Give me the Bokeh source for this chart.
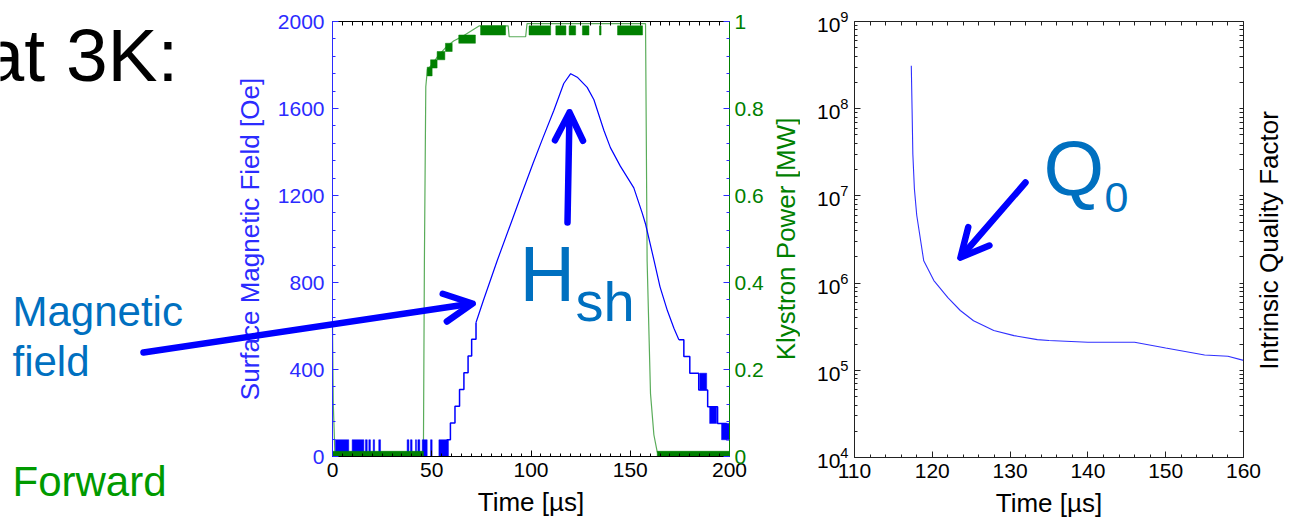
import math
from bokeh.plotting import figure
from bokeh.models import (Range1d, LinearAxis, LogAxis, FixedTicker, SingleIntervalTicker,
                          Label, Arrow, OpenHead)
from bokeh.layouts import row
from bokeh.embed import file_html
from bokeh.resources import INLINE

FONT = "Liberation Sans"
AXBLUE = "#2b2bff"
LINEBLUE = "#0000ff"
GREEN = "#008000"
TXT_BLUE = "#0070c0"
TXT_GREEN = "#009a00"

# ---------------- data: left chart ----------------
# Surface magnetic field [Oe] (rising staircase, smooth part, falling staircase)
rise_t = [57.5, 59.4, 61.7, 64.0, 66.2, 68.3, 70.1, 72.3]
rise_h = [77, 154, 231, 308, 385, 462, 539, 616]
main_t = [72.3, 76, 83, 90, 95, 101, 106, 111.5, 116.5, 120, 123.3, 128.3, 131.7,
          136.7, 140, 145, 151.8, 156, 157.7, 162, 165, 168.7, 172, 174.5]
main_h = [616, 717, 901, 1075, 1200, 1347, 1465, 1591, 1715, 1760, 1744, 1697, 1640,
          1500, 1420, 1335, 1235, 1120, 1069, 901, 780, 671, 590, 537]
fall_t = [174.5, 177, 180, 184.5, 189, 194, 198.5, 200]
fall_h = [537, 460, 383, 306, 229, 152, 77, 77]
# digitizer toggling bursts of the field signal (start, end, low, high)
hnoise_t0 = [1.5, 9.9, 16.6, 18.3, 20.5, 23.3, 37.6, 39.3, 41.8, 43.0, 45.2, 49.4, 53.6,
             185.0, 190.0, 196.0]
hnoise_t1 = [8.2, 15.8, 17.5, 19.1, 21.2, 24.2, 38.5, 40.1, 42.3, 44.0, 47.7, 50.2, 58.4,
             188.5, 193.5, 200.0]
hnoise_lo = [0, 0, 0, 0, 0, 0, 0, 0, 0, 0, 0, 0, 0, 306, 152, 77]
hnoise_hi = [77, 77, 77, 77, 77, 77, 77, 77, 77, 77, 77, 77, 77, 383, 229, 152]

# Klystron power [MW]
pw_t = [0, 0.4, 1.2, 45.8, 46.3, 47.0, 47.8, 50, 53, 57, 61, 66, 74, 88.5, 89, 97.3, 98,
        157.7, 158.5, 160.2, 161.9, 163.6, 200]
pw_v = [0.30, 0.12, 0.01, 0.01, 0.45, 0.85, 0.89, 0.90, 0.92, 0.94, 0.955, 0.967, 0.99,
        0.99, 0.965, 0.965, 0.995, 0.995, 0.45, 0.145, 0.05, 0.01, 0.01]
pnoise_t0 = [0, 163.6, 47.7, 49.4, 52.7, 56.9, 63.6, 74.6, 99.0, 112.5, 119.2, 125.9, 134.5, 143.6]
pnoise_t1 = [45.8, 200, 50.2, 52.7, 56.6, 60.3, 72.0, 87.2, 109.9, 117.6, 122.5, 129.2, 135.3, 156.2]
pnoise_lo = [0, 0, 0.875, 0.893, 0.912, 0.931, 0.950, 0.969, 0.969, 0.969, 0.969, 0.969, 0.969, 0.969]
pnoise_hi = [0.012, 0.012, 0.895, 0.912, 0.931, 0.950, 0.969, 0.990, 0.990, 0.990, 0.990, 0.990, 0.990, 0.990]

# ---------------- data: right chart ----------------
q_t = [117.3, 117.4, 117.5, 117.7, 118.0, 118.9, 120.2, 122.0, 123.6, 125.3, 127.9, 130.5,
       133.5, 135.0, 140.0, 146.0, 150.0, 155.0, 158.0, 160.0]
q_v = [3.1e8, 1.0e8, 3.0e7, 1.2e7, 6.0e6, 1.8e6, 1.07e6, 6.8e5, 4.85e5, 3.7e5, 2.86e5, 2.5e5,
       2.25e5, 2.2e5, 2.1e5, 2.1e5, 1.8e5, 1.5e5, 1.45e5, 1.3e5]

TICK_FS = "21px"
LABEL_FS = "26px"
BASE_SHIFT = 0.37  # label anchor offset (fraction of font size) above the glyph baseline


def style_axis(ax, color, label_color=None, tick_color=None):
    ax.axis_line_color = color
    ax.major_tick_line_color = tick_color or color
    ax.minor_tick_line_color = tick_color or color
    ax.major_tick_in = 6
    ax.major_tick_out = 0
    ax.minor_tick_in = 3
    ax.minor_tick_out = 0
    ax.major_label_text_font = FONT
    ax.major_label_text_color = label_color or color
    ax.major_label_text_font_size = TICK_FS
    ax.axis_label_text_font = FONT
    ax.axis_label_text_font_size = LABEL_FS
    ax.axis_label_text_font_style = "normal"
    ax.axis_label_text_color = label_color or color


def tick_only_axis(cls, ticks, color, **kw):
    ax = cls(ticker=FixedTicker(ticks=[], minor_ticks=ticks), **kw)
    ax.axis_line_color = color
    ax.minor_tick_line_color = color
    ax.minor_tick_in = 4
    ax.minor_tick_out = 0
    ax.major_tick_in = 0
    ax.major_tick_out = 0
    return ax


def bare_figure(width, height, x_range, y_range, **kw):
    f = figure(width=width, height=height, x_range=x_range, y_range=y_range,
               output_backend="svg", toolbar_location=None, min_border=0,
               min_border_left=0, min_border_right=0, min_border_top=0, min_border_bottom=0, **kw)
    f.grid.visible = False
    f.outline_line_color = None
    f.background_fill_color = "white"
    f.border_fill_color = "white"
    return f


# ---------------- left figure (frame = whole canvas, axes at fixed locations) ----------------
# canvas pixel mapping: t=0 -> x 332, t=200 -> x 729 ; H=0 -> y 456, H=2000 -> y 21
W1, H1 = 800, 519
SX = (729 - 332) / 200.0
SY = (456 - 21) / 2000.0
p = bare_figure(W1, H1, Range1d(-332 / SX, (W1 - 332) / SX),
                Range1d(-(H1 - 456) / SY, 456 / SY))
p.extra_y_ranges = {"pw": Range1d(-(H1 - 456) / 435.0, 456 / 435.0)}


def lx(px):
    return (px - 332) / SX


def ly_text(baseline_px, fs):
    return (456 - (baseline_px - BASE_SHIFT * fs)) / SY


bx = p.xaxis[0]
bx.ticker = SingleIntervalTicker(interval=50, num_minor_ticks=10)
style_axis(bx, "#000000")
bx.fixed_location = 0
bx.bounds = (0, 200)
bx.axis_label = "Time [µs]"
bx.major_label_standoff = 6
bx.axis_label_standoff = 7

lya = p.yaxis[0]
lya.ticker = SingleIntervalTicker(interval=400, num_minor_ticks=5)
style_axis(lya, AXBLUE)
lya.fixed_location = 0
lya.bounds = (0, 2000)
lya.axis_label = "Surface Magnetic Field [Oe]"
lya.major_label_standoff = 8
lya.axis_label_standoff = 10

tx = tick_only_axis(LinearAxis, list(range(0, 201, 5)), "#000000", fixed_location=2000, bounds=(0, 200))
p.add_layout(tx, "above")

ry = LinearAxis(y_range_name="pw", ticker=SingleIntervalTicker(interval=0.2, num_minor_ticks=5),
                fixed_location=200, bounds=(0, 1))
style_axis(ry, GREEN, label_color=GREEN, tick_color=AXBLUE)
ry.major_label_overrides = {0: "0", 1: "1"}
ry.major_label_standoff = 5
p.add_layout(ry, "right")

# power trace
p.line(pw_t, pw_v, y_range_name="pw", line_color=GREEN, line_width=1.2, line_alpha=0.65)
p.quad(left=pnoise_t0[2:], right=pnoise_t1[2:], bottom=pnoise_lo[2:], top=pnoise_hi[2:],
       y_range_name="pw", fill_color=GREEN, line_color=GREEN, line_width=0.5)
# field trace
p.quad(left=hnoise_t0, right=hnoise_t1, bottom=hnoise_lo, top=hnoise_hi,
       fill_color=LINEBLUE, line_color=LINEBLUE, line_width=0.5)
p.step(rise_t, rise_h, mode="after", line_color=LINEBLUE, line_width=1.5)
p.line(main_t, main_h, line_color=LINEBLUE, line_width=1.2)
p.step(fall_t, fall_h, mode="after", line_color=LINEBLUE, line_width=1.5)
p.quad(left=pnoise_t0[:2], right=pnoise_t1[:2], bottom=pnoise_lo[:2], top=pnoise_hi[:2],
       y_range_name="pw", fill_color=GREEN, line_color=GREEN, line_width=0.5)

# right-hand axis title of the left chart
p.add_layout(Label(x=lx(785), y=1000, text="Klystron Power [MW]", angle=math.pi / 2,
                   text_font=FONT, text_font_size=LABEL_FS, text_color=GREEN,
                   text_align="center", text_baseline="middle"))

# slide annotations
p.add_layout(Label(x=lx(-18), y=ly_text(82, 75), text="at 3K:", text_font=FONT,
                   text_font_size="75px", text_color="#000000", text_baseline="alphabetic"))
p.add_layout(Label(x=lx(12), y=ly_text(327, 42), text="Magnetic", text_font=FONT,
                   text_font_size="42px", text_color=TXT_BLUE, text_baseline="alphabetic"))
p.add_layout(Label(x=lx(12), y=ly_text(377, 42), text="field", text_font=FONT,
                   text_font_size="42px", text_color=TXT_BLUE, text_baseline="alphabetic"))
p.add_layout(Label(x=lx(12), y=ly_text(497, 42), text="Forward", text_font=FONT,
                   text_font_size="42px", text_color=TXT_GREEN, text_baseline="alphabetic"))
p.add_layout(Label(x=lx(519), y=ly_text(302, 77), text="H", text_font=FONT,
                   text_font_size="77px", text_color=TXT_BLUE, text_baseline="alphabetic"))
p.add_layout(Label(x=lx(575), y=ly_text(322, 56), text="sh", text_font=FONT,
                   text_font_size="56px", text_color=TXT_BLUE, text_baseline="alphabetic"))

head_kw = dict(size=28, line_width=6.5, line_color=LINEBLUE, line_cap="round", line_join="round")
p.add_layout(Arrow(end=OpenHead(**head_kw), x_start=lx(143), y_start=(456 - 352) / SY,
                   x_end=lx(472), y_end=(456 - 303) / SY,
                   line_width=6.5, line_color=LINEBLUE, line_cap="round"))
p.add_layout(Arrow(end=OpenHead(**head_kw), x_start=lx(567), y_start=(456 - 222) / SY,
                   x_end=lx(569), y_end=(456 - 112) / SY,
                   line_width=6.5, line_color=LINEBLUE, line_cap="round"))

# ---------------- right figure (frame = whole canvas) ----------------
# page mapping: t=110 -> x 854, t=160 -> x 1243 ; 1e9 -> y 21, 1e4 -> y 457
X0 = 800
W2 = 1293 - X0
SX2 = (1243 - 854) / 50.0
DEC = (457 - 21) / 5.0
x2_lo = 110 - (854 - X0) / SX2
x2_hi = 160 + (X0 + W2 - 1243) / SX2
y2_lo = 10 ** (4 - (H1 - 457) / DEC)
y2_hi = 10 ** (9 + 21 / DEC)
p2 = bare_figure(W2, H1, Range1d(x2_lo, x2_hi), Range1d(y2_lo, y2_hi), y_axis_type="log")


def rx(px):
    return 110 + (px - 854) / SX2


def ry_px(py):
    return 10 ** (9 - (py - 21) / DEC)


decades = [1e4, 1e5, 1e6, 1e7, 1e8, 1e9]
minor = [m * d for d in decades[:-1] for m in range(2, 10)]

bx2 = p2.xaxis[0]
bx2.ticker = SingleIntervalTicker(interval=10, num_minor_ticks=5)
style_axis(bx2, "#222222", label_color="#000000")
bx2.fixed_location = 1e4
bx2.bounds = (110, 160)
bx2.axis_label = "Time [µs]"
bx2.major_label_standoff = 6
bx2.axis_label_standoff = 7

ly2 = p2.yaxis[0]
ly2.ticker = FixedTicker(ticks=decades, minor_ticks=minor)
style_axis(ly2, "#222222", label_color="#000000")
ly2.fixed_location = 110
ly2.bounds = (1e4, 1e9)
ly2.major_label_standoff = 6

tx2 = tick_only_axis(LinearAxis, list(range(110, 161, 2)), "#222222", fixed_location=1e9, bounds=(110, 160))
p2.add_layout(tx2, "above")
ry2 = tick_only_axis(LogAxis, decades + minor, "#222222", fixed_location=160, bounds=(1e4, 1e9))
p2.add_layout(ry2, "right")

p2.line(q_t, q_v, line_color="#3030ff", line_width=1.1)

p2.add_layout(Label(x=rx(1268), y=ry_px(240), text="Intrinsic Quality Factor", angle=math.pi / 2,
                    text_font=FONT, text_font_size=LABEL_FS, text_color="#000000",
                    text_align="center", text_baseline="middle"))
p2.add_layout(Label(x=rx(1043), y=ry_px(196 - BASE_SHIFT * 78), text="Q", text_font=FONT,
                    text_font_size="78px", text_color=TXT_BLUE, text_baseline="alphabetic"))
p2.add_layout(Label(x=rx(1104), y=ry_px(213 - BASE_SHIFT * 43), text="0", text_font=FONT,
                    text_font_size="43px", text_color=TXT_BLUE, text_baseline="alphabetic"))
p2.add_layout(Arrow(end=OpenHead(**head_kw), x_start=rx(1025), y_start=ry_px(182),
                    x_end=rx(960), y_end=ry_px(257), line_width=6.5, line_color=LINEBLUE,
                    line_cap="round"))

layout = row(p, p2)
open("out.html", "w").write(file_html(layout, INLINE))
